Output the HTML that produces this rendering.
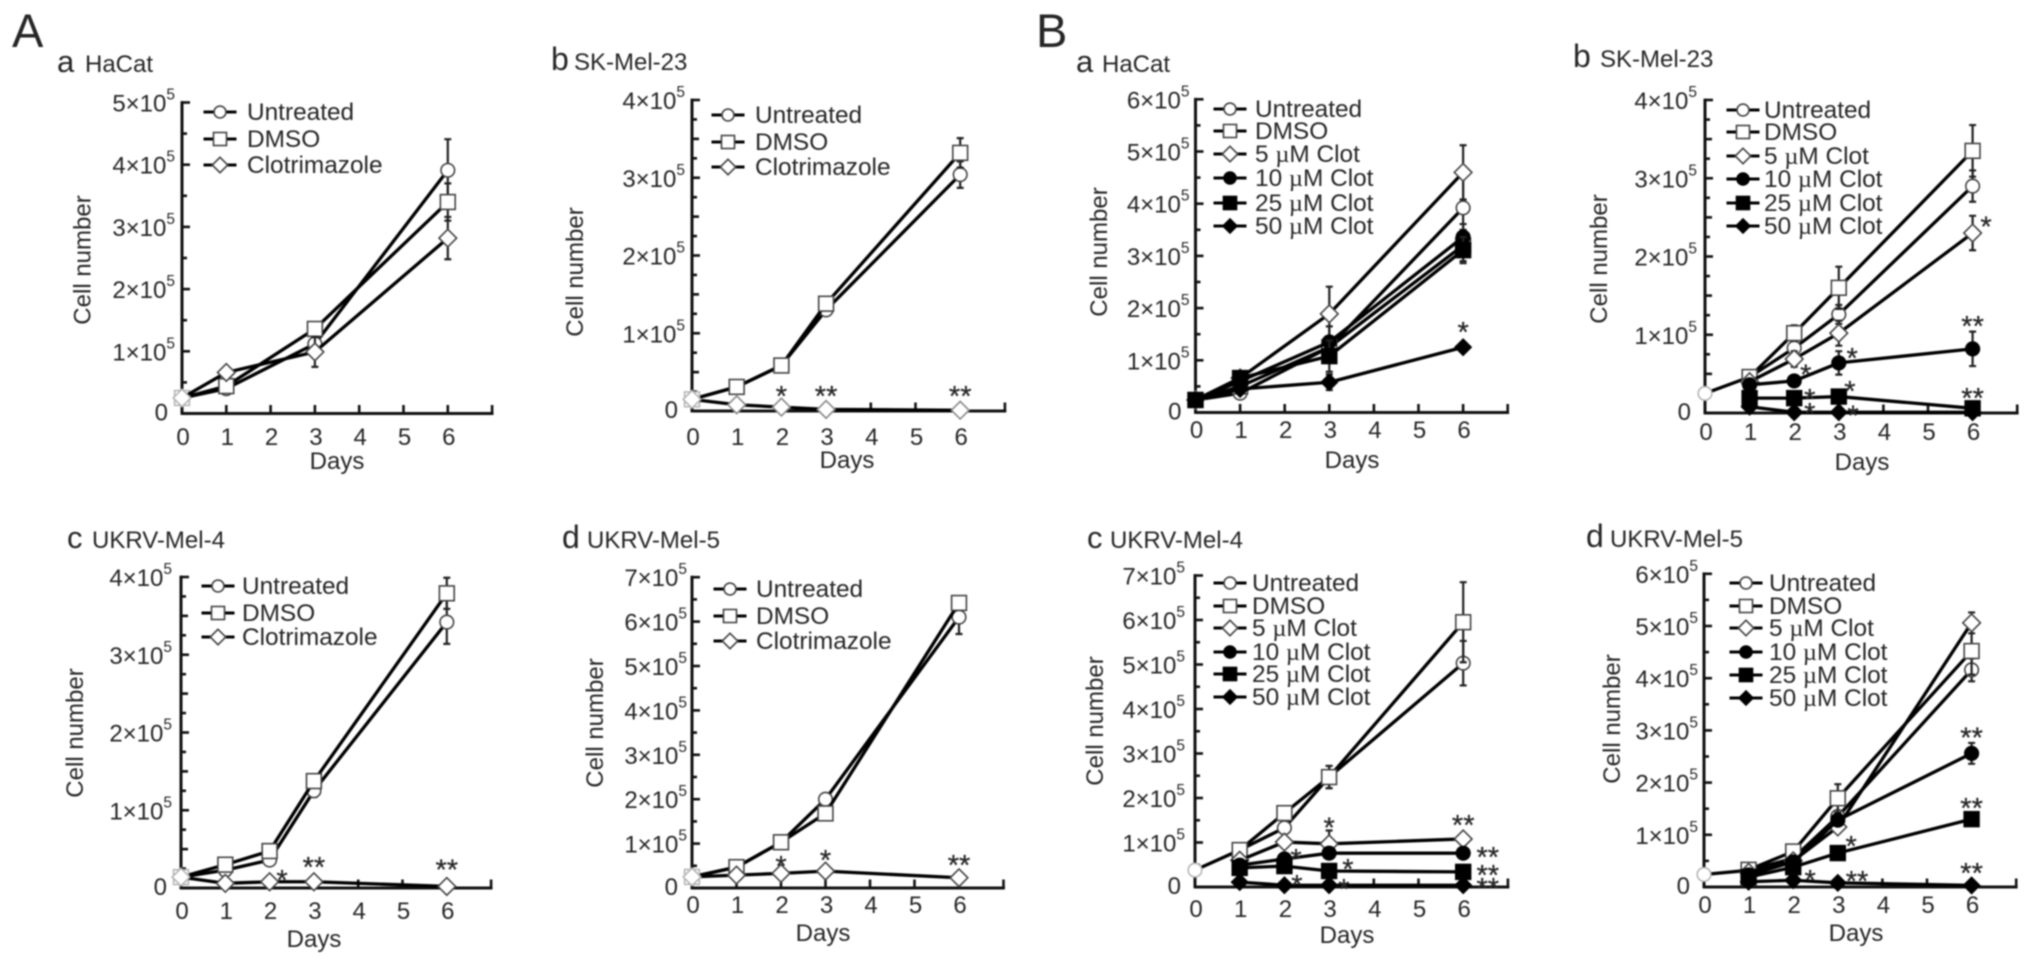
<!DOCTYPE html>
<html lang="en">
<head>
<meta charset="utf-8">
<title>Cell growth curves with clotrimazole</title>
<style>
html,body{margin:0;padding:0;background:#fff;width:2032px;height:966px;overflow:hidden}
svg{display:block;filter:blur(0.7px)}
text{font-family:"Liberation Sans",Arial,sans-serif;fill:#262626}
</style>
</head>
<body>
<svg id="figure" xmlns="http://www.w3.org/2000/svg" width="2032" height="966" viewBox="0 0 2032 966">
<rect width="2032" height="966" fill="#fff"/>
<text x="12" y="47" font-size="47">A</text>
<text x="1036" y="47" font-size="47">B</text>
</svg>
<script>
// All cell counts below are in units of 1e5 cells.
const daysShort = [0, 1, 3, 6];
const daysLong = [0, 1, 2, 3, 6];
const xTickLabels = [0, 1, 2, 3, 4, 5, 6];

// Panel A-a HaCat
const aaUntreated = [0.25, 0.40, 1.12, 3.91];
const aaUntreatedErr = [0, 0.03, 0.1, 0.5];
const aaDmso = [0.25, 0.44, 1.36, 3.40];
const aaDmsoErr = [0, 0.03, 0.05, 0.3];
const aaClot = [0.25, 0.66, 0.99, 2.82];
const aaClotErr = [0, 0.03, 0.24, 0.34];
const aaStars = [];

// Panel A-b SK-Mel-23
const abUntreated = [0.15, 0.31, 0.585, 1.30, 3.04];
const abUntreatedErr = [0, 0.02, 0.02, 0.05, 0.17];
const abDmso = [0.15, 0.31, 0.585, 1.38, 3.32];
const abDmsoErr = [0, 0.02, 0.02, 0.05, 0.19];
const abClot = [0.15, 0.08, 0.05, 0.02, 0.01];
const abClotErr = [0, 0, 0, 0, 0];
const abStarDays = [2, 3, 6];
const abStarValues = [0.28, 0.28, 0.28];
const abStarLabels = ['*', '**', '**'];

// Panel A-c UKRV-Mel-4
const acUntreated = [0.14, 0.23, 0.36, 1.25, 3.42];
const acUntreatedErr = [0, 0.02, 0.02, 0.08, 0.28];
const acDmso = [0.14, 0.30, 0.475, 1.375, 3.79];
const acDmsoErr = [0, 0.02, 0.02, 0.05, 0.2];
const acClot = [0.14, 0.06, 0.08, 0.08, 0.02];
const acClotErr = [0, 0, 0, 0, 0];
const acStarDays = [2.28, 3, 6];
const acStarValues = [0.19, 0.36, 0.33];
const acStarLabels = ['*', '**', '**'];

// Panel A-d UKRV-Mel-5
const adUntreated = [0.25, 0.47, 1.03, 2.0, 6.1];
const adUntreatedErr = [0, 0.02, 0.03, 0.05, 0.38];
const adDmso = [0.25, 0.47, 1.03, 1.68, 6.42];
const adDmsoErr = [0, 0.02, 0.03, 0.05, 0.1];
const adClot = [0.25, 0.29, 0.33, 0.38, 0.23];
const adClotErr = [0, 0, 0, 0, 0];
const adStarDays = [2, 3, 6];
const adStarValues = [0.65, 0.79, 0.68];
const adStarLabels = ['*', '*', '**'];

// Panel B-a HaCat
const baUntreated = [0.24, 0.37, 1.25, 3.92];
const baUntreatedErr = [0, 0.03, 0.1, 0.7];
const baDmso = [0.24, 0.5, 1.25, 3.2];
const baDmsoErr = [0, 0.03, 0.1, 0.3];
const baClot5 = [0.24, 0.66, 1.89, 4.6];
const baClot5Err = [0, 0.05, 0.52, 0.52];
const baClot10 = [0.24, 0.6, 1.35, 3.36];
const baClot10Err = [0, 0.05, 0.3, 0.25];
const baClot25 = [0.24, 0.66, 1.08, 3.11];
const baClot25Err = [0, 0.05, 0.3, 0.25];
const baClot50 = [0.24, 0.45, 0.58, 1.25];
const baClot50Err = [0, 0.03, 0.15, 0.05];
const baStarDays = [6];
const baStarValues = [1.68];
const baStarLabels = ['*'];

// Panel B-b SK-Mel-23
const bbUntreated = [0.25, 0.46, 0.83, 1.26, 2.9];
const bbUntreatedErr = [0, 0.03, 0.1, 0.12, 0.2];
const bbDmso = [null, 0.46, 1.02, 1.6, 3.35];
const bbDmsoErr = [0, 0.03, 0.1, 0.27, 0.33];
const bbClot5 = [null, 0.40, 0.69, 1.02, 2.3];
const bbClot5Err = [0, 0.03, 0.1, 0.16, 0.22];
const bbClot10 = [null, 0.36, 0.41, 0.64, 0.82];
const bbClot10Err = [0, 0.03, 0.05, 0.15, 0.22];
const bbClot25 = [null, 0.19, 0.19, 0.21, 0.06];
const bbClot25Err = [0, 0.02, 0.02, 0.03, 0.02];
const bbClot50 = [null, 0.08, 0.01, 0.01, 0.01];
const bbClot50Err = [0, 0, 0, 0, 0];
const bbStarDays = [6.3, 6, 3.3, 2.26, 3.25, 2.35, 6, 2.35, 3.32];
const bbStarValues = [2.47, 1.2, 0.79, 0.58, 0.37, 0.27, 0.28, 0.09, 0.06];
const bbStarLabels = ['*', '**', '*', '*', '*', '*', '**', '*', '*'];

// Panel B-c UKRV-Mel-4
const bcUntreated = [0.38, 0.83, 1.33, 2.47, 5.03];
const bcUntreatedErr = [0, 0.05, 0.05, 0.25, 0.5];
const bcDmso = [null, 0.83, 1.66, 2.47, 5.95];
const bcDmsoErr = [0, 0.05, 0.1, 0.25, 0.9];
const bcClot5 = [null, 0.6, 1.01, 0.97, 1.08];
const bcClot5Err = [0, 0.03, 0.05, 0.3, 0.05];
const bcClot10 = [null, 0.49, 0.63, 0.76, 0.76];
const bcClot10Err = [0, 0.03, 0.05, 0.03, 0.03];
const bcClot25 = [null, 0.43, 0.47, 0.36, 0.34];
const bcClot25Err = [0, 0.03, 0.05, 0.03, 0.03];
const bcClot50 = [null, 0.11, 0.04, 0.04, 0.04];
const bcClot50Err = [0, 0, 0, 0, 0];
const bcStarDays = [3, 6, 6.55, 2.26, 3.42, 6.55, 2.28, 3.33, 6.55];
const bcStarValues = [1.5, 1.55, 0.83, 0.79, 0.56, 0.43, 0.2, 0.11, 0.13];
const bcStarLabels = ['*', '**', '**', '*', '*', '**', '*', '*', '**'];

// Panel B-d UKRV-Mel-5
const bdUntreated = [0.24, 0.32, 0.55, 1.35, 4.16];
const bdUntreatedErr = [0, 0.03, 0.05, 0.1, 0.22];
const bdDmso = [null, 0.33, 0.68, 1.7, 4.52];
const bdDmsoErr = [0, 0.03, 0.05, 0.27, 0.45];
const bdClot5 = [null, 0.28, 0.5, 1.15, 5.06];
const bdClot5Err = [0, 0.03, 0.05, 0.1, 0.2];
const bdClot10 = [null, 0.23, 0.48, 1.28, 2.56];
const bdClot10Err = [0, 0.03, 0.05, 0.1, 0.2];
const bdClot25 = [null, 0.19, 0.38, 0.65, 1.3];
const bdClot25Err = [0, 0.02, 0.03, 0.03, 0.03];
const bdClot50 = [null, 0.1, 0.13, 0.08, 0.03];
const bdClot50Err = [0, 0, 0, 0, 0];
const bdStarDays = [6, 6, 3.3, 2.38, 3.43, 6];
const bdStarValues = [3.0, 1.65, 0.92, 0.27, 0.25, 0.4];
const bdStarLabels = ['**', '**', '*', '*', '**', '**'];

const NS = 'http://www.w3.org/2000/svg';
const root = document.getElementById('figure');

function make(tag, attrs, parent) {
  const node = document.createElementNS(NS, tag);
  for (const k in attrs) node.setAttribute(k, attrs[k]);
  parent.appendChild(node);
  return node;
}

function drawMarker(parent, kind, filled, cx, cy, scale, outline) {
  const fill = filled ? '#000' : '#fff';
  const stroke = filled ? '#000' : (outline || '#444');
  const st = { fill: fill, stroke: stroke, 'stroke-width': 1.6 };
  let m;
  if (kind === 'circle') {
    m = make('circle', Object.assign({ cx: cx, cy: cy, r: 6.8 * scale }, st), parent);
  } else if (kind === 'square') {
    const h = 7.4 * scale;
    m = make('rect', Object.assign({ x: cx - h, y: cy - h, width: 2 * h, height: 2 * h }, st), parent);
  } else {
    const h = (filled ? 8 : 8.8) * scale;
    m = make('polygon', Object.assign({ points: [cx, cy - h, cx + h, cy, cx, cy + h, cx - h, cy].join(',') }, st), parent);
  }
  return m;
}

function s3(days, u, ue, d, de, c, ce) {
  return [
    { key: 'untreated', label: 'Untreated', kind: 'circle', filled: false, days: days, values: u, errs: ue },
    { key: 'dmso', label: 'DMSO', kind: 'square', filled: false, days: days, values: d, errs: de },
    { key: 'clotrimazole', label: 'Clotrimazole', kind: 'diamond', filled: false, days: days, values: c, errs: ce }
  ];
}

function s6(days, u, ue, d, de, c5, c5e, c10, c10e, c25, c25e, c50, c50e) {
  return [
    { key: 'untreated', label: 'Untreated', kind: 'circle', filled: false, days: days, values: u, errs: ue },
    { key: 'dmso', label: 'DMSO', kind: 'square', filled: false, days: days, values: d, errs: de },
    { key: 'clot-5', label: '5', dose: true, kind: 'diamond', filled: false, days: days, values: c5, errs: c5e },
    { key: 'clot-10', label: '10', dose: true, kind: 'circle', filled: true, days: days, values: c10, errs: c10e },
    { key: 'clot-25', label: '25', dose: true, kind: 'square', filled: true, days: days, values: c25, errs: c25e },
    { key: 'clot-50', label: '50', dose: true, kind: 'diamond', filled: true, days: days, values: c50, errs: c50e }
  ];
}

const panels = [
  { id: 'a-a', letter: 'a', name: 'HaCat', lx: 57, nx: 85, ty: 72, x0: 182, dx: 44.3, y0: 413.5, unit: 62.2, max: 5, sub: 2, gap: 7, tickBase: 445, daysCx: 337, daysBase: 469, cellX: 90.7, cellCy: 260, legM: 220, legT: 247, rows: [112, 139, 165],
    series: s3(daysShort, aaUntreated, aaUntreatedErr, aaDmso, aaDmsoErr, aaClot, aaClotErr), starDays: [], starValues: aaStars, starLabels: [] },
  { id: 'a-b', letter: 'b', name: 'SK-Mel-23', lx: 551, nx: 574, ty: 70, x0: 692, dx: 44.7, y0: 411, unit: 77.75, max: 4, sub: 4, gap: 7, tickBase: 445, daysCx: 847, daysBase: 468, cellX: 583, cellCy: 272, legM: 728, legT: 755, rows: [115, 142, 167], lowOutline: true,
    series: s3(daysLong, abUntreated, abUntreatedErr, abDmso, abDmsoErr, abClot, abClotErr), starDays: abStarDays, starValues: abStarValues, starLabels: abStarLabels },
  { id: 'a-c', letter: 'c', name: 'UKRV-Mel-4', lx: 67, nx: 92, ty: 548, x0: 181, dx: 44.3, y0: 888, unit: 77.75, max: 4, sub: 4, gap: 9, tickBase: 919, daysCx: 314, daysBase: 947, cellX: 83, cellCy: 733, legM: 218, legT: 242, rows: [586, 613, 637],
    series: s3(daysLong, acUntreated, acUntreatedErr, acDmso, acDmsoErr, acClot, acClotErr), starDays: acStarDays, starValues: acStarValues, starLabels: acStarLabels },
  { id: 'a-d', letter: 'd', name: 'UKRV-Mel-5', lx: 562, nx: 587, ty: 548, x0: 692, dx: 44.5, y0: 888, unit: 44.4, max: 7, sub: 2, gap: 5, tickBase: 913, daysCx: 823, daysBase: 941, cellX: 603, cellCy: 723, legM: 730, legT: 756, rows: [589, 616, 641],
    series: s3(daysLong, adUntreated, adUntreatedErr, adDmso, adDmsoErr, adClot, adClotErr), starDays: adStarDays, starValues: adStarValues, starLabels: adStarLabels },
  { id: 'b-a', letter: 'a', name: 'HaCat', lx: 1076, nx: 1102, ty: 72, x0: 1195.5, dx: 44.6, y0: 412.5, unit: 52.2, max: 6, sub: 2, gap: 6, tickBase: 438, daysCx: 1352, daysBase: 468, cellX: 1107, cellCy: 252, legM: 1230, legT: 1255, rows: [109, 131, 154, 178, 203, 226],
    series: s6(daysShort, baUntreated, baUntreatedErr, baDmso, baDmsoErr, baClot5, baClot5Err, baClot10, baClot10Err, baClot25, baClot25Err, baClot50, baClot50Err), starDays: baStarDays, starValues: baStarValues, starLabels: baStarLabels },
  { id: 'b-b', letter: 'b', name: 'SK-Mel-23', lx: 1573, nx: 1600, ty: 67, x0: 1705, dx: 44.6, y0: 413, unit: 78.25, max: 4, sub: 4, gap: 8, tickBase: 440, daysCx: 1862, daysBase: 470, cellX: 1607, cellCy: 259, legM: 1743, legT: 1764, rows: [110, 132, 156, 179, 203, 226],
    series: s6(daysLong, bbUntreated, bbUntreatedErr, bbDmso, bbDmsoErr, bbClot5, bbClot5Err, bbClot10, bbClot10Err, bbClot25, bbClot25Err, bbClot50, bbClot50Err), starDays: bbStarDays, starValues: bbStarValues, starLabels: bbStarLabels },
  { id: 'b-c', letter: 'c', name: 'UKRV-Mel-4', lx: 1087, nx: 1110, ty: 548, x0: 1195, dx: 44.7, y0: 887, unit: 44.5, max: 7, sub: 2, gap: 10, tickBase: 917, daysCx: 1347, daysBase: 943, cellX: 1103, cellCy: 721, legM: 1230, legT: 1252, rows: [583, 606, 628, 652, 674, 697],
    series: s6(daysLong, bcUntreated, bcUntreatedErr, bcDmso, bcDmsoErr, bcClot5, bcClot5Err, bcClot10, bcClot10Err, bcClot25, bcClot25Err, bcClot50, bcClot50Err), starDays: bcStarDays, starValues: bcStarValues, starLabels: bcStarLabels },
  { id: 'b-d', letter: 'd', name: 'UKRV-Mel-5', lx: 1586, nx: 1610, ty: 547, x0: 1704, dx: 44.6, y0: 887, unit: 52.2, max: 6, sub: 2, gap: 6, tickBase: 913, daysCx: 1856, daysBase: 941, cellX: 1620, cellCy: 719, legM: 1746, legT: 1769, rows: [583, 606, 628, 652, 675, 698],
    series: s6(daysLong, bdUntreated, bdUntreatedErr, bdDmso, bdDmsoErr, bdClot5, bdClot5Err, bdClot10, bdClot10Err, bdClot25, bdClot25Err, bdClot50, bdClot50Err), starDays: bdStarDays, starValues: bdStarValues, starLabels: bdStarLabels }
];

function drawPanel(p) {
  const xAt = function (d) { return p.x0 + d * p.dx; };
  const yAt = function (v) { return p.y0 - v * p.unit; };

  const g = make('g', {}, root);
  
  

  // Title
  const title = make('text', { y: p.ty, 'font-size': 24 }, g);
  
  
  const letter = make('tspan', { x: p.lx, 'font-size': p.letter === 'a' || p.letter === 'c' ? 31 : 32 }, title);
  letter.textContent = p.letter;
  const nameSpan = make('tspan', { x: p.nx }, title);
  nameSpan.textContent = p.name;

  // Axes
  const axisColor = '#111';
  const yAxis = make('line', { x1: p.x0, x2: p.x0, y1: yAt(p.max) - 1.4, y2: p.y0 + 1.4, stroke: axisColor, 'stroke-width': 3 }, g);
  
  
  const xAxis = make('line', { x1: p.x0, x2: xAt(7) + 1.4, y1: p.y0, y2: p.y0, stroke: axisColor, 'stroke-width': 3 }, g);
  
  

  // Y ticks
  for (let i = 0; i <= p.max * p.sub; i++) {
    const v = i / p.sub;
    const major = i % p.sub === 0;
    const half = p.sub === 4 && i % 2 === 0 && !major;
    const len = major ? 8 : (half ? 7 : 5);
    if (i > 0) {
      const t = make('line', { x1: p.x0, x2: p.x0 + len, y1: yAt(v), y2: yAt(v), stroke: axisColor, 'stroke-width': 2.6 }, g);
      
      
    }
    if (major) {
      const lab = make('text', { 'text-anchor': 'end', x: p.x0 - (v === 0 ? 14 : p.gap), y: yAt(v) + (v === 0 ? 7 : 9), 'font-size': 24 }, g);
      
      
      if (v === 0) {
        lab.textContent = '0';
      } else {
        const base = make('tspan', {}, lab);
        base.textContent = v + '\u00d710';
        const sup = make('tspan', { dy: -12, 'font-size': 15.5 }, lab);
        sup.textContent = '5';
      }
    }
  }

  // X ticks
  for (let d = 0; d <= 7; d++) {
    const t = make('line', { x1: xAt(d), x2: xAt(d), y1: p.y0, y2: p.y0 - 8.5, stroke: axisColor, 'stroke-width': 2.6 }, g);
    
    
  }
  xTickLabels.forEach(function (d) {
    const lab = make('text', { 'text-anchor': 'middle', x: xAt(d) + 1, y: p.tickBase, 'font-size': 24 }, g);
    
    
    lab.textContent = d;
  });

  const xTitle = make('text', { 'text-anchor': 'middle', x: p.daysCx, y: p.daysBase, 'font-size': 24 }, g);
  
  
  xTitle.textContent = 'Days';

  const yTitle = make('text', { 'text-anchor': 'middle', x: 0, y: 0, 'font-size': 24, transform: 'translate(' + p.cellX + ' ' + p.cellCy + ') rotate(-90)' }, g);
  
  
  yTitle.textContent = 'Cell number';

  // Series
  p.series.forEach(function (s) {
    const sg = make('g', {}, g);
    
    
    const pts = [];
    s.values.forEach(function (v, i) {
      if (v !== null) pts.push({ x: xAt(s.days[i]), y: yAt(v), v: v, e: s.errs[i], day: s.days[i] });
    });
    const line = make('polyline', { points: pts.map(function (q) { return q.x + ',' + q.y; }).join(' '), fill: 'none', stroke: '#000', 'stroke-width': 3.3, 'stroke-linejoin': 'round' }, sg);
    
    
    pts.forEach(function (q) {
      if (q.e > 0) {
        const top = yAt(q.v + q.e);
        const bot = yAt(q.v - q.e);
        const eb = make('path', { d: 'M' + q.x + ' ' + top + 'V' + bot + 'M' + (q.x - 3.5) + ' ' + top + 'H' + (q.x + 3.5) + 'M' + (q.x - 3.5) + ' ' + bot + 'H' + (q.x + 3.5), fill: 'none', stroke: '#222', 'stroke-width': 2.2 }, sg);
        
        
      }
    });
    pts.forEach(function (q) {
      let outline = '#444';
      if (q.day === 0) outline = '#b5b5b5';
      else if (p.lowOutline && s.kind === 'diamond') outline = '#888';
      const m = drawMarker(sg, s.kind, s.filled, q.x, q.y, 1, outline);
      
      
    });
  });

  // Significance marks
  p.starLabels.forEach(function (label, i) {
    const star = make('text', { 'text-anchor': 'middle', x: xAt(p.starDays[i]), y: yAt(p.starValues[i]) + 17, 'font-size': 29, stroke: '#333', 'stroke-width': 0.3 }, g);
    
    
    star.textContent = label;
  });

  // Legend
  const lg = make('g', {}, g);
  
  
  p.series.forEach(function (s, i) {
    const ry = p.rows[i];
    const entry = make('g', {}, lg);
    
    
    make('line', { x1: p.legM - 16.5, x2: p.legM + 16.5, y1: ry, y2: ry, stroke: '#000', 'stroke-width': 3 }, entry);
    drawMarker(entry, s.kind, s.filled, p.legM, ry, 0.88);
    const t = make('text', { x: p.legT, y: ry + 8, 'font-size': 24.4 }, entry);
    if (s.dose) {
      const a = make('tspan', {}, t);
      a.textContent = s.label + ' ';
      const mu = make('tspan', { 'font-family': '"Liberation Serif",serif' }, t);
      mu.textContent = '\u00b5';
      const b = make('tspan', {}, t);
      b.textContent = 'M Clot';
    } else {
      t.textContent = s.label;
    }
  });
}

panels.forEach(drawPanel);
</script>
</body>
</html>
